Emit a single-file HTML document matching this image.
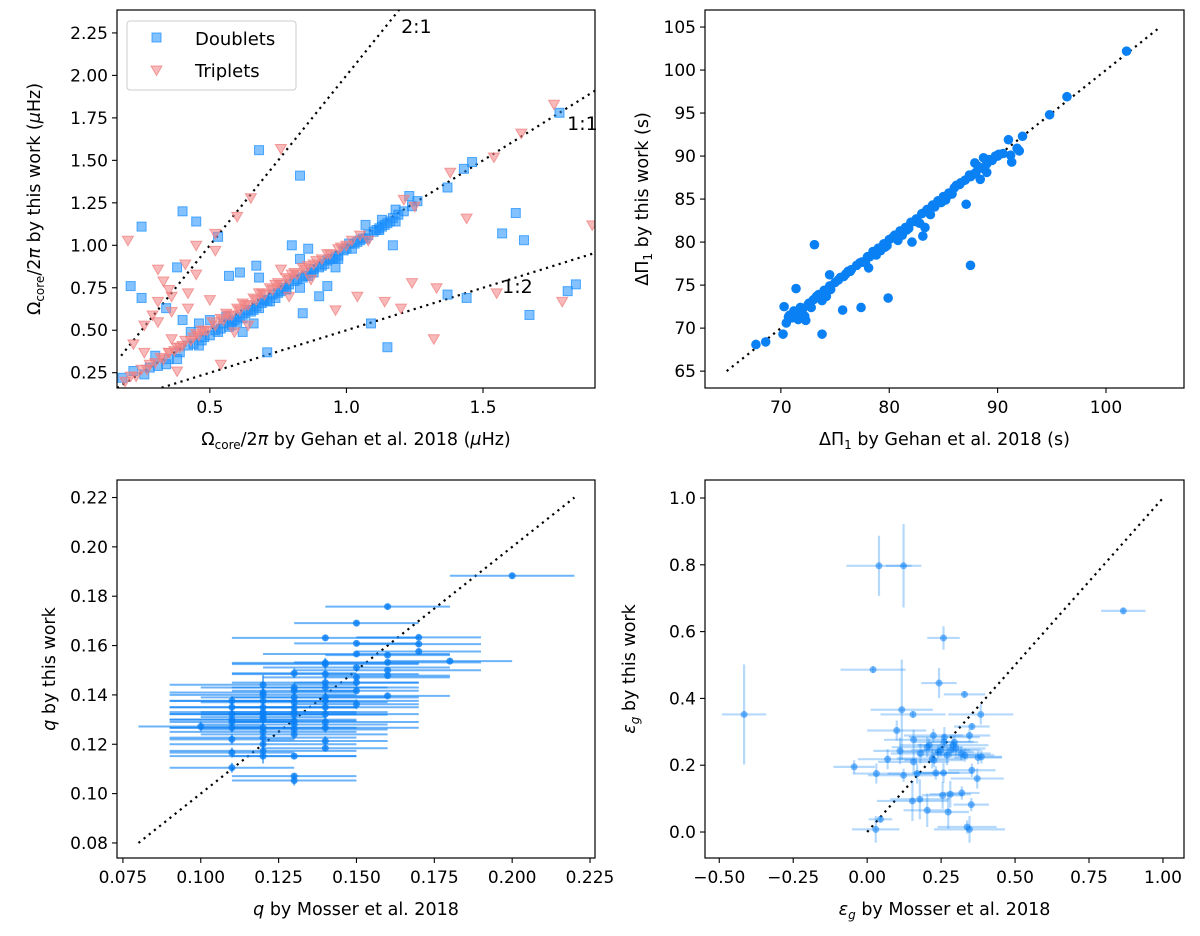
<!DOCTYPE html>
<html><head><meta charset="utf-8"><style>
body{margin:0;background:#fff;}
svg{display:block;font-family:"DejaVu Sans","Liberation Sans",sans-serif;}
</style></head><body>
<svg id="fig" width="1200" height="936" viewBox="0 0 1200 936" xmlns="http://www.w3.org/2000/svg"></svg>
<script>
// ---------- Panel 1 data (rotation rates) ----------
const dblX=[0.68,0.83,0.40,0.45,0.25,0.53,0.80,0.38,0.67,0.57,0.61,0.68,0.21,0.25,0.34,0.40,0.46,0.62,0.66,0.84,0.90,0.93,0.96,1.17,1.62,1.57,1.65,1.37,1.43,1.46,1.78,1.37,1.44,1.67,1.81,1.84,1.09,1.15,0.71,0.38,0.34,0.30,0.22,0.18,0.28,1.23,1.26,1.18,1.13,1.18,1.07,1.12,1.01,0.97,0.86,0.83,0.78,0.83,0.70,0.56,0.50,0.43,0.46,0.39,
0.26,0.31,0.35,0.42,0.48,0.52,0.55,0.58,0.61,0.64,0.67,0.70,0.73,0.76,0.79,0.82,0.85,0.88,0.91,0.94,0.97,1.00,1.03,1.05,1.08,1.10,1.12,1.14,1.16,1.19,1.21,1.24,0.60,0.66,0.72,0.88,0.92,1.02,1.11,0.53,0.47,0.57,
0.44,0.50,0.54,0.59,0.63,0.65,0.69,0.71,0.75,0.77,0.81,0.84,0.87,0.90,0.93,0.96,0.99,1.04,1.07,1.13,1.15,1.17,0.62,0.68,0.74,0.78,0.86,0.95,1.06,0.58];
const dblY=[1.56,1.41,1.20,1.14,1.11,1.05,1.00,0.87,0.88,0.82,0.84,0.81,0.76,0.69,0.63,0.56,0.54,0.49,0.54,0.60,0.70,0.76,0.87,1.00,1.19,1.07,1.03,1.34,1.45,1.49,1.78,0.71,0.69,0.59,0.73,0.77,0.54,0.40,0.37,0.33,0.30,0.35,0.26,0.22,0.28,1.29,1.26,1.21,1.15,1.14,1.12,1.09,1.01,0.92,0.98,0.92,0.74,0.75,0.68,0.58,0.56,0.49,0.41,0.37,
0.24,0.29,0.33,0.41,0.46,0.50,0.54,0.55,0.58,0.62,0.64,0.68,0.71,0.73,0.77,0.80,0.82,0.86,0.88,0.92,0.94,0.98,1.01,1.03,1.06,1.08,1.10,1.12,1.14,1.18,1.20,1.23,0.55,0.62,0.67,0.84,0.89,0.98,1.09,0.49,0.44,0.52,
0.42,0.47,0.51,0.56,0.60,0.61,0.66,0.67,0.72,0.75,0.79,0.81,0.84,0.87,0.91,0.93,0.97,1.02,1.04,1.11,1.13,1.16,0.57,0.63,0.69,0.74,0.82,0.92,1.04,0.53];
const triX=[1.76,1.64,1.54,1.38,1.44,1.90,0.76,0.65,0.60,0.52,0.20,0.45,0.52,0.41,0.45,0.31,0.33,0.35,0.42,0.31,0.36,0.29,0.31,0.26,0.36,0.42,0.50,0.76,0.79,0.87,1.04,0.96,1.14,1.20,1.24,1.33,1.55,1.79,1.32,0.54,0.38,0.22,0.26,0.36,0.59,0.64,1.08,1.21,1.25,
0.19,0.23,0.27,0.30,0.33,0.37,0.40,0.43,0.46,0.49,0.52,0.55,0.58,0.61,0.64,0.67,0.70,0.73,0.76,0.79,0.82,0.85,0.88,0.91,0.94,0.97,1.00,0.35,0.39,0.44,0.48,0.57,0.63,0.69,0.74,0.80,0.86,
0.21,0.25,0.28,0.32,0.35,0.38,0.41,0.45,0.47,0.51,0.54,0.56,0.60,0.62,0.66,0.68,0.72,0.75,0.78,0.81,0.84,0.89,0.93,0.98,1.02,1.05];
const triY=[1.83,1.66,1.52,1.43,1.16,1.12,1.57,1.28,1.17,1.07,1.03,1.00,0.97,0.89,0.83,0.86,0.79,0.74,0.72,0.67,0.70,0.59,0.55,0.53,0.61,0.63,0.68,0.86,0.70,0.80,0.70,0.62,0.67,0.63,0.78,0.75,0.72,0.67,0.45,0.30,0.26,0.42,0.37,0.45,0.49,0.53,1.03,1.27,1.23,
0.20,0.23,0.27,0.31,0.33,0.38,0.41,0.44,0.47,0.50,0.53,0.56,0.59,0.62,0.65,0.68,0.71,0.74,0.77,0.80,0.83,0.86,0.89,0.92,0.95,0.98,1.00,0.37,0.40,0.46,0.50,0.59,0.65,0.72,0.77,0.83,0.88,
0.23,0.27,0.30,0.34,0.37,0.40,0.44,0.48,0.50,0.55,0.57,0.60,0.63,0.66,0.69,0.72,0.75,0.78,0.81,0.84,0.87,0.91,0.95,0.99,1.03,1.06];
const p1XTicks=[0.5,1.0,1.5];
const p1YTicks=[0.25,0.50,0.75,1.00,1.25,1.50,1.75,2.00,2.25];
// ---------- Panel 2 data (period spacing) ----------
const dpX=[101.9,96.4,94.8,92.3,91.0,91.3,91.8,73.1,87.5,87.1,79.9,77.4,75.7,73.8,67.7,68.6,70.2,71.4,70.3,83.1,82.1,83.3,78.1,74.5,72.3,88.4,89.0,87.9,88.7,90.1,
70.5,71.0,71.5,72.0,72.5,73.0,73.5,74.0,74.5,75.0,75.5,76.0,76.5,77.0,77.5,78.0,78.5,79.0,79.5,80.0,80.5,81.0,81.5,82.0,82.5,83.0,83.5,84.0,84.5,85.0,85.5,86.0,86.5,87.0,87.5,88.0,88.5,89.0,89.5,90.0,90.5,71.2,72.8,74.2,76.2,78.8,80.8,82.8,84.8,86.2,70.8,72.2,73.8,79.2,81.2,83.8,85.2,91.2,92.0,
70.7,71.6,72.6,73.3,74.6,75.3,76.4,77.3,78.2,79.6,80.3,81.6,82.4,83.4,84.2,85.4,86.6,87.4,88.2,89.2,71.8,73.6,75.8,77.8,79.8,81.8,83.6,85.8,87.8,89.8];
const dpY=[102.2,96.9,94.8,92.3,91.9,89.3,90.9,79.7,77.3,84.4,73.5,72.4,72.1,69.3,68.1,68.4,69.3,74.6,72.5,80.7,80.0,81.7,77.0,76.2,70.9,87.3,88.1,89.2,89.8,90.2,
70.6,71.2,71.8,72.2,72.7,73.3,73.9,74.4,74.9,75.3,75.9,76.3,76.8,77.3,77.7,78.3,78.9,79.3,79.8,80.3,80.8,81.3,81.7,82.3,82.7,83.3,83.8,84.3,84.8,85.3,85.7,86.3,86.7,87.2,87.6,88.1,88.6,89.1,89.5,90.0,90.3,72.0,72.4,73.7,76.6,78.5,80.2,82.2,84.6,86.6,71.5,71.4,73.2,79.0,80.8,83.2,84.9,90.1,90.6,
71.3,71.0,72.9,73.7,74.5,75.6,76.6,77.6,78.3,79.4,80.5,81.4,82.4,83.6,84.1,85.4,86.9,87.8,88.8,89.6,72.4,73.9,76.0,77.6,79.6,81.6,83.5,85.6,87.9,90.0];
const p2XTicks=[70,80,90,100];
const p2YTicks=[65,70,75,80,85,90,95,100,105];
// ---------- Panel 3 data (coupling q) ----------
const qX=[0.20,0.16,0.15,0.14,0.15,0.17,0.17,0.17,0.18,0.16,0.16,0.16,0.16,0.15,0.15,0.15,0.15,0.15,0.16,0.14,0.14,0.14,0.14,0.14,0.14,0.14,0.14,0.13,0.13,0.13,0.13,0.13,0.13,0.13,0.13,0.12,0.12,0.12,0.12,0.12,0.12,0.12,0.11,0.11,0.11,0.11,0.11,0.11,0.10,0.12,0.13,0.11,0.13,0.14,0.12,
0.12,0.12,0.13,0.13,0.14,0.14,0.12,0.13,0.11,0.12,0.13,0.14,0.15,0.13,0.12,0.14,0.11,0.12];
const qY=[0.1883,0.1758,0.1691,0.1631,0.1609,0.1633,0.1606,0.1576,0.1537,0.1561,0.1532,0.1500,0.1478,0.1566,0.1511,0.1471,0.1417,0.1362,0.1396,0.1525,0.1484,0.1430,0.1376,0.1322,0.1267,0.1213,0.1184,0.1488,0.1417,0.1349,0.1295,0.1240,0.1152,0.1071,0.1053,0.1441,0.1376,0.1322,0.1267,0.1227,0.1173,0.1152,0.1376,0.1322,0.1267,0.1220,0.1166,0.1105,0.1272,0.1300,0.1390,0.1300,0.1330,0.1350,0.1400,
0.1350,0.1250,0.1370,0.1280,0.1450,0.1290,0.1310,0.1430,0.1350,0.1410,0.1320,0.1390,0.1450,0.1260,0.1200,0.1530,0.1290,0.1330];
const qXErr=[0.02,0.02,0.02,0.03,0.02,0.02,0.02,0.02,0.02,0.02,0.03,0.03,0.02,0.03,0.03,0.03,0.02,0.02,0.02,0.03,0.03,0.03,0.03,0.03,0.03,0.02,0.02,0.02,0.02,0.02,0.02,0.03,0.02,0.02,0.02,0.03,0.03,0.03,0.03,0.03,0.03,0.03,0.02,0.02,0.02,0.02,0.02,0.02,0.02,0.03,0.03,0.02,0.03,0.03,0.03,
0.03,0.03,0.03,0.03,0.03,0.03,0.02,0.03,0.02,0.03,0.03,0.03,0.02,0.03,0.03,0.03,0.02,0.03];
const qYErr=[0.001,0.001,0.001,0.001,0.001,0.001,0.001,0.001,0.001,0.001,0.001,0.001,0.001,0.001,0.001,0.001,0.001,0.002,0.001,0.002,0.002,0.002,0.002,0.002,0.002,0.002,0.001,0.002,0.002,0.002,0.002,0.002,0.001,0.001,0.002,0.004,0.003,0.003,0.003,0.003,0.003,0.003,0.002,0.002,0.002,0.002,0.002,0.002,0.002,0.002,0.002,0.002,0.002,0.002,0.002,
0.002,0.002,0.002,0.002,0.002,0.002,0.002,0.002,0.002,0.002,0.002,0.002,0.002,0.002,0.002,0.002,0.002,0.002];
const p3XTicks=[0.075,0.100,0.125,0.150,0.175,0.200,0.225];
const p3YTicks=[0.08,0.10,0.12,0.14,0.16,0.18,0.20,0.22];
// ---------- Panel 4 data (epsilon_g) ----------
const eX=[-0.416,0.04,0.123,0.866,0.258,0.02,0.243,0.329,0.117,0.155,0.384,0.354,0.10,0.157,0.224,0.261,0.295,0.346,0.111,0.203,0.249,0.283,0.318,0.375,0.386,0.18,0.069,-0.044,0.157,0.226,0.031,0.123,0.169,0.232,0.258,0.354,0.372,0.32,0.281,0.255,0.178,0.153,0.352,0.203,0.274,0.045,0.029,0.338,0.346,0.21,0.24,0.27,0.30,0.22,0.26,0.29,0.33];
const eY=[0.352,0.797,0.797,0.662,0.581,0.486,0.446,0.412,0.366,0.352,0.352,0.316,0.304,0.276,0.289,0.284,0.269,0.289,0.243,0.254,0.245,0.245,0.235,0.223,0.225,0.235,0.218,0.195,0.21,0.215,0.175,0.17,0.175,0.177,0.177,0.185,0.16,0.117,0.113,0.11,0.098,0.093,0.082,0.065,0.06,0.038,0.008,0.015,0.008,0.26,0.24,0.23,0.25,0.22,0.27,0.26,0.23];
const eXErr=[0.075,0.11,0.06,0.075,0.055,0.11,0.06,0.07,0.105,0.11,0.11,0.06,0.1,0.1,0.1,0.12,0.08,0.07,0.09,0.12,0.1,0.1,0.1,0.08,0.07,0.1,0.1,0.07,0.12,0.1,0.08,0.12,0.1,0.08,0.1,0.08,0.09,0.06,0.07,0.07,0.1,0.12,0.06,0.08,0.07,0.04,0.08,0.1,0.12,0.1,0.12,0.1,0.1,0.12,0.1,0.12,0.1];
const eYErr=[0.15,0.09,0.125,0.01,0.035,0.01,0.045,0.01,0.15,0.01,0.03,0.01,0.03,0.03,0.02,0.03,0.02,0.02,0.04,0.03,0.02,0.02,0.02,0.02,0.02,0.03,0.03,0.02,0.03,0.02,0.03,0.02,0.03,0.02,0.03,0.02,0.03,0.02,0.04,0.04,0.06,0.06,0.02,0.05,0.05,0.01,0.04,0.02,0.04,0.02,0.02,0.03,0.02,0.03,0.02,0.02,0.02];
const p4XTicks=[-0.50,-0.25,0.00,0.25,0.50,0.75,1.00];
const p4YTicks=[0.0,0.2,0.4,0.6,0.8,1.0];

const NS="http://www.w3.org/2000/svg";
const svg=document.getElementById('fig');
function mk(tag,attrs,parent){const e=document.createElementNS(NS,tag);for(const k in attrs)e.setAttribute(k,attrs[k]);(parent||svg).appendChild(e);return e;}
function scale(d0,d1,r0,r1){return v=>r0+(v-d0)/(d1-d0)*(r1-r0);}

function panel(cfg){
  const g=mk('g',{});
  
  
  const X=scale(cfg.xd[0],cfg.xd[1],cfg.L,cfg.R), Y=scale(cfg.yd[0],cfg.yd[1],cfg.B,cfg.T);
  const cid='clip-'+cfg.name;
  const cp=mk('clipPath',{id:cid},g); mk('rect',{x:cfg.L,y:cfg.T,width:cfg.R-cfg.L,height:cfg.B-cfg.T},cp);
  const plot=mk('g',{'clip-path':'url(#'+cid+')'},g);
  
  
  const xt=mk('g',{},g);
  
  
  cfg.xt.forEach(v=>{const x=X(v);mk('line',{x1:x,x2:x,y1:cfg.B,y2:cfg.B+5,stroke:'#000','stroke-width':1.1},xt);
    const t=mk('text',{x:x,y:cfg.B+25,'text-anchor':'middle','font-size':17},xt);t.textContent=cfg.xfmt(v);
    
    });
  const yt=mk('g',{},g);
  
  
  cfg.yt.forEach(v=>{const y=Y(v);mk('line',{x1:cfg.L-5,x2:cfg.L,y1:y,y2:y,stroke:'#000','stroke-width':1.1},yt);
    const t=mk('text',{x:cfg.L-9,y:y+6,'text-anchor':'end','font-size':17},yt);t.textContent=cfg.yfmt(v);
    
    });
  const xl=mk('text',{x:(cfg.L+cfg.R)/2,y:cfg.B+57,'text-anchor':'middle','font-size':17.5},g);xl.innerHTML=cfg.xlabel;
  
  
  const yc=(cfg.T+cfg.B)/2;
  const yl=mk('text',{x:cfg.ylx,y:yc,'text-anchor':'middle','font-size':17.5,transform:'rotate(-90 '+cfg.ylx+' '+yc+')'},g);yl.innerHTML=cfg.ylabel;
  
  
  cfg.draw(plot,X,Y,g);
  const fr=mk('rect',{x:cfg.L,y:cfg.T,width:cfg.R-cfg.L,height:cfg.B-cfg.T,fill:'none',stroke:'#000','stroke-width':1.2},g);
  
  
}
function dotted(p,X,Y,x0,y0,x1,y1,name){const l=mk('line',{x1:X(x0),y1:Y(y0),x2:X(x1),y2:Y(y1),stroke:'#000','stroke-width':2.2,'stroke-dasharray':'2.2,4.4'},p);
  
  }
const BLUE='#0a80f5';

// Panel 1
panel({name:'panel-rotation',L:117,R:595,T:10,B:388,xd:[0.16,1.91],yd:[0.16,2.385],xt:p1XTicks,yt:p1YTicks,
 xfmt:v=>v.toFixed(1),yfmt:v=>v.toFixed(2),ylx:40,
 xlabel:'Ω<tspan font-size="12" dy="4">core</tspan><tspan dy="-4">/2</tspan><tspan font-style="italic">π</tspan> by Gehan et al. 2018 (<tspan font-style="italic">μ</tspan>Hz)',
 ylabel:'Ω<tspan font-size="12" dy="4">core</tspan><tspan dy="-4">/2</tspan><tspan font-style="italic">π</tspan> by this work (<tspan font-style="italic">μ</tspan>Hz)',
 draw:(p,X,Y,g)=>{
  dotted(p,X,Y,0.175,0.35,1.2,2.4,'ratio-2-1-line');
  dotted(p,X,Y,0.16,0.16,1.91,1.91,'ratio-1-1-line');
  dotted(p,X,Y,0.3,0.15,1.91,0.955,'ratio-1-2-line');
  dblX.forEach((x,i)=>{const r=mk('rect',{x:X(x)-4.5,y:Y(dblY[i])-4.5,width:9,height:9,fill:'rgba(30,144,255,0.55)',stroke:'rgba(30,144,255,0.75)','stroke-width':1},p);
    
    });
  triX.forEach((x,i)=>{const cx=X(x),cy=Y(triY[i]);const t=mk('path',{d:`M${cx-5.5},${cy-4}L${cx+5.5},${cy-4}L${cx},${cy+5.5}Z`,fill:'rgba(240,128,128,0.55)',stroke:'rgba(240,128,128,0.75)','stroke-width':1},p);
    
    });
  [['2:1',1.2,2.25,'start'],['1:1',1.92,1.68,'end'],['1:2',1.57,0.72,'start']].forEach(a=>{const t=mk('text',{x:X(a[1]),y:Y(a[2]),'font-size':19,'text-anchor':a[3]},g);t.textContent=a[0];
    
    });
  const lg=mk('g',{},g);
  
  
  mk('rect',{x:127,y:21,width:169,height:69,rx:3,fill:'rgba(255,255,255,0.8)',stroke:'#ccc','stroke-width':1},lg);
  mk('rect',{x:152,y:33,width:9,height:9,fill:'rgba(30,144,255,0.55)',stroke:'rgba(30,144,255,0.75)'},lg);
  mk('path',{d:'M151,66L162,66L156.5,75.5Z',fill:'rgba(240,128,128,0.55)',stroke:'rgba(240,128,128,0.75)'},lg);
  const t1=mk('text',{x:195,y:45,'font-size':18},lg);t1.textContent='Doublets';
  
  
  const t2=mk('text',{x:195,y:77,'font-size':18},lg);t2.textContent='Triplets';
  
  
 }});

// Panel 2
panel({name:'panel-period-spacing',L:705,R:1184,T:10,B:388,xd:[63.0,107.2],yd:[63.04,106.98],xt:p2XTicks,yt:p2YTicks,
 xfmt:v=>String(v),yfmt:v=>String(v),ylx:648,
 xlabel:'ΔΠ<tspan font-size="12" dy="4">1</tspan><tspan dy="-4"> by Gehan et al. 2018 (s)</tspan>',
 ylabel:'ΔΠ<tspan font-size="12" dy="4">1</tspan><tspan dy="-4"> by this work (s)</tspan>',
 draw:(p,X,Y)=>{
  dotted(p,X,Y,65,65,105,105,'one-to-one-line');
  dpX.forEach((x,i)=>{const c=mk('circle',{cx:X(x),cy:Y(dpY[i]),r:4.8,fill:BLUE},p);
    
    });
 }});

// Panel 3
panel({name:'panel-coupling',L:117,R:595,T:480,B:858,xd:[0.0731,0.2266],yd:[0.0739,0.2271],xt:p3XTicks,yt:p3YTicks,
 xfmt:v=>v.toFixed(3),yfmt:v=>v.toFixed(2),ylx:55,
 xlabel:'<tspan font-style="italic">q</tspan> by Mosser et al. 2018',
 ylabel:'<tspan font-style="italic">q</tspan> by this work',
 draw:(p,X,Y)=>{
  dotted(p,X,Y,0.08,0.08,0.22,0.22,'one-to-one-line');
  qX.forEach((x,i)=>{const y=qY[i];
    const eb=mk('g',{stroke:'rgba(10,128,245,0.6)','stroke-width':2},p);
    
    
    mk('line',{x1:X(x-qXErr[i]),x2:X(x+qXErr[i]),y1:Y(y),y2:Y(y)},eb);
    mk('line',{x1:X(x),x2:X(x),y1:Y(y-qYErr[i]),y2:Y(y+qYErr[i])},eb);
    const c=mk('circle',{cx:X(x),cy:Y(y),r:3.5,fill:'rgba(10,128,245,0.8)'},p);
    
    });
 }});

// Panel 4
panel({name:'panel-epsilon',L:705,R:1184,T:480,B:858,xd:[-0.5482,1.0711],yd:[-0.0778,1.0539],xt:p4XTicks,yt:p4YTicks,
 xfmt:v=>v.toFixed(2).replace('-','−'),yfmt:v=>v.toFixed(1),ylx:635,
 xlabel:'<tspan font-style="italic">ε<tspan font-size="12" dy="4">g</tspan></tspan><tspan dy="-4"> by Mosser et al. 2018</tspan>',
 ylabel:'<tspan font-style="italic">ε<tspan font-size="12" dy="4">g</tspan></tspan><tspan dy="-4"> by this work</tspan>',
 draw:(p,X,Y)=>{
  dotted(p,X,Y,0,0,1,1,'one-to-one-line');
  eX.forEach((x,i)=>{const y=eY[i];
    const eb=mk('g',{stroke:'rgba(10,128,245,0.3)','stroke-width':2.2},p);
    
    
    mk('line',{x1:X(x-eXErr[i]),x2:X(x+eXErr[i]),y1:Y(y),y2:Y(y)},eb);
    mk('line',{x1:X(x),x2:X(x),y1:Y(y-eYErr[i]),y2:Y(y+eYErr[i])},eb);
    const c=mk('circle',{cx:X(x),cy:Y(y),r:3.5,fill:'rgba(10,128,245,0.55)'},p);
    
    });
 }});
</script>
</body></html>
